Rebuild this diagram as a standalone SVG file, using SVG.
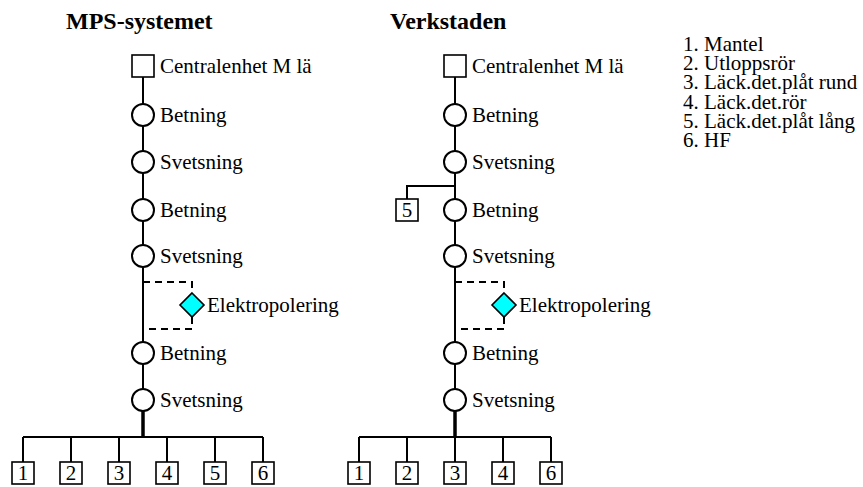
<svg xmlns="http://www.w3.org/2000/svg" width="863" height="487" viewBox="0 0 863 487">
<style>
.t{font-family:"Liberation Serif","Times New Roman",serif;font-size:21px;fill:#000}
.h{font-family:"Liberation Serif","Times New Roman",serif;font-size:24px;font-weight:bold;fill:#000}
.n{font-family:"Liberation Serif","Times New Roman",serif;font-size:21px;fill:#000;text-anchor:middle}
.c{fill:#fff;stroke:#000;stroke-width:2}
.b{fill:#fff;stroke:#000;stroke-width:1.6}
.d{fill:#00ffff;stroke:#000;stroke-width:1.6}
.l{fill:none;stroke:#000;stroke-width:2}
.k{fill:none;stroke:#000;stroke-width:3.5}
.s{fill:none;stroke:#000;stroke-width:2;stroke-dasharray:7 5}
</style>
<rect width="863" height="487" fill="#fff"/>
<text class="h" x="66" y="29">MPS-systemet</text>
<text class="h" x="390" y="29">Verkstaden</text>
<g id="legend">
<text class="t" x="683" y="51"><tspan x="683" y="51">1. Mantel</tspan><tspan x="683" dy="19.2">2. Utloppsrör</tspan><tspan x="683" dy="19.2">3. Läck.det.plåt rund</tspan><tspan x="683" dy="19.2">4. Läck.det.rör</tspan><tspan x="683" dy="19.2">5. Läck.det.plåt lång</tspan><tspan x="683" dy="19.2">6. HF</tspan></text>
</g>
<g id="connectors">
<path class="l" d="M143 77V353M143 353V400"/>
<path class="k" d="M143 410V437"/>
<path class="l" d="M23 437H263M23 437V462M71 437V462M119 437V462M167 437V462M215 437V462M263 437V462"/>
<path class="s" d="M143 282H192V293M192 317V329H143"/>
<path class="l" d="M455 77V400M455 186H407V199"/>
<path class="k" d="M455 410V437"/>
<path class="l" d="M359 437H551M359 437V462M407 437V462M455 437V462M503 437V462M551 437V462"/>
<path class="s" d="M455 282H504V293M504 317V329H455"/>
</g>
<g id="L-central"><rect class="b" x="132" y="55" width="22" height="22"/><text class="t" x="160" y="73">Centralenhet M lä</text></g>
<g id="L-betning1"><circle class="c" cx="143" cy="115" r="11"/><text class="t" x="160" y="122">Betning</text></g>
<g id="L-svetsning1"><circle class="c" cx="143" cy="162" r="11"/><text class="t" x="160" y="169">Svetsning</text></g>
<g id="L-betning2"><circle class="c" cx="143" cy="210" r="11"/><text class="t" x="160" y="217">Betning</text></g>
<g id="L-svetsning2"><circle class="c" cx="143" cy="256" r="11"/><text class="t" x="160" y="263">Svetsning</text></g>
<g id="L-elektro"><path class="d" d="M192 293L204 305L192 317L180 305Z"/><text class="t" x="207" y="312">Elektropolering</text></g>
<g id="L-betning3"><circle class="c" cx="143" cy="353" r="11"/><text class="t" x="160" y="360">Betning</text></g>
<g id="L-svetsning3"><circle class="c" cx="143" cy="400" r="11"/><text class="t" x="160" y="407">Svetsning</text></g>
<g id="L-p1"><rect class="b" x="12" y="462" width="22" height="22"/><text class="n" x="23" y="480">1</text></g>
<g id="L-p2"><rect class="b" x="60" y="462" width="22" height="22"/><text class="n" x="71" y="480">2</text></g>
<g id="L-p3"><rect class="b" x="108" y="462" width="22" height="22"/><text class="n" x="119" y="480">3</text></g>
<g id="L-p4"><rect class="b" x="156" y="462" width="22" height="22"/><text class="n" x="167" y="480">4</text></g>
<g id="L-p5"><rect class="b" x="204" y="462" width="22" height="22"/><text class="n" x="215" y="480">5</text></g>
<g id="L-p6"><rect class="b" x="252" y="462" width="22" height="22"/><text class="n" x="263" y="480">6</text></g>
<g id="R-central"><rect class="b" x="444" y="55" width="22" height="22"/><text class="t" x="472" y="73">Centralenhet M lä</text></g>
<g id="R-betning1"><circle class="c" cx="455" cy="115" r="11"/><text class="t" x="472" y="122">Betning</text></g>
<g id="R-svetsning1"><circle class="c" cx="455" cy="162" r="11"/><text class="t" x="472" y="169">Svetsning</text></g>
<g id="R-p5top"><rect class="b" x="396" y="199" width="22" height="22"/><text class="n" x="407" y="217">5</text></g>
<g id="R-betning2"><circle class="c" cx="455" cy="210" r="11"/><text class="t" x="472" y="217">Betning</text></g>
<g id="R-svetsning2"><circle class="c" cx="455" cy="256" r="11"/><text class="t" x="472" y="263">Svetsning</text></g>
<g id="R-elektro"><path class="d" d="M504 293L516 305L504 317L492 305Z"/><text class="t" x="519" y="312">Elektropolering</text></g>
<g id="R-betning3"><circle class="c" cx="455" cy="353" r="11"/><text class="t" x="472" y="360">Betning</text></g>
<g id="R-svetsning3"><circle class="c" cx="455" cy="400" r="11"/><text class="t" x="472" y="407">Svetsning</text></g>
<g id="R-p1"><rect class="b" x="348" y="462" width="22" height="22"/><text class="n" x="359" y="480">1</text></g>
<g id="R-p2"><rect class="b" x="396" y="462" width="22" height="22"/><text class="n" x="407" y="480">2</text></g>
<g id="R-p3"><rect class="b" x="444" y="462" width="22" height="22"/><text class="n" x="455" y="480">3</text></g>
<g id="R-p4"><rect class="b" x="492" y="462" width="22" height="22"/><text class="n" x="503" y="480">4</text></g>
<g id="R-p6"><rect class="b" x="540" y="462" width="22" height="22"/><text class="n" x="551" y="480">6</text></g>
</svg>
